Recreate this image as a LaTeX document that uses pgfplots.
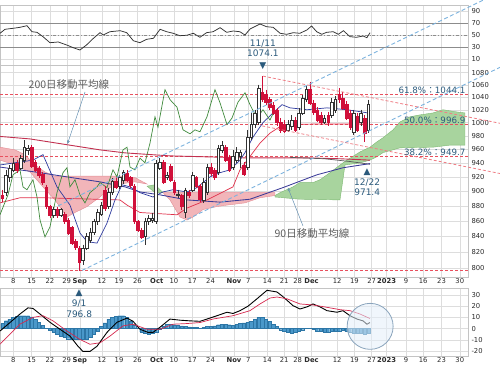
\documentclass[border=0pt]{standalone}
\usepackage{pgfplots}
\pgfplotsset{compat=1.18}
\usepackage{fontspec}
\setmainfont{DejaVu Sans}
\newfontfamily\jp{Noto Sans CJK JP}
\usetikzlibrary{arrows.meta}

\definecolor{gridc}{HTML}{DDDDDD}
\definecolor{framec}{HTML}{C4C4C4}
\definecolor{tickc}{HTML}{2A2A2A}
\definecolor{candR}{HTML}{D0103A}
\definecolor{candW}{HTML}{333333}
\definecolor{ma200}{HTML}{C2304F}
\definecolor{ma90}{HTML}{3B3B98}
\definecolor{tenkan}{HTML}{2E3A9E}
\definecolor{kijun}{HTML}{E0304A}
\definecolor{chikou}{HTML}{3F8A3C}
\definecolor{kumoR}{HTML}{F2B5B9}
\definecolor{kumoRe}{HTML}{E38E96}
\definecolor{kumoG}{HTML}{A8D49E}
\definecolor{kumoGe}{HTML}{7DB872}
\definecolor{fibred}{HTML}{E8505E}
\definecolor{trendred}{HTML}{EF7F86}
\definecolor{trendblue}{HTML}{7DB3DE}
\definecolor{annot}{HTML}{2B5A7C}
\definecolor{jpgray}{HTML}{5E5E5E}
\definecolor{macdbar}{HTML}{4A98CA}
\definecolor{macdbare}{HTML}{2D76A6}
\definecolor{circf}{HTML}{E3EFFA}
\definecolor{circe}{HTML}{8AA4BC}
\definecolor{rsic}{HTML}{333333}
\definecolor{lvl}{HTML}{8C8C8C}

\pgfplotsset{
  panel/.style={
    scale only axis, width=468pt,
    xmin=-3.63, xmax=124.24,
    axis line style={draw=framec},
    major tick length=0pt,
    xtick={0,5,10,14.6,18.2,24.2,28.9,33.9,39.2,43.9,48.9,53.9,60.3,64.2,69.4,74,77.7,81.5,88.5,93.2,97.9,102,107.3,112,117,122},
    xmajorgrids, ymajorgrids,
    grid style={draw=gridc, line width=0.4pt},
    yticklabel pos=right,
    tick label style={font=\fontsize{6.8}{7.5}\selectfont, text=tickc},
    xticklabel style={inner sep=1.2pt},
  },
  datelabels/.style={xticklabels={8,15,22,29,\textbf{Sep},12,19,26,\textbf{Oct},10,17,24,\textbf{Nov},7,14,21,28,\textbf{Dec},12,19,27,\textbf{2023},9,16,23,30}},
  wickR/.style={draw=candR, line width=0.45pt},
  wickW/.style={draw=candW, line width=0.45pt},
  bodyR/.style={fill=candR, draw=candR, line width=0.3pt},
  bodyW/.style={fill=white, draw=candW, line width=0.45pt},
}

\newcommand\candle[6]{%
  \pgfmathsetmacro\cxa{#2-0.36}%
  \pgfmathsetmacro\cxb{#2+0.36}%
  \addplot[wick#1] coordinates {(#2,#4) (#2,#5)};%
  \edef\candlebody{\noexpand\addplot[body#1] coordinates {(\cxa,#3) (\cxb,#3) (\cxb,#6) (\cxa,#6)} -- cycle;}%
  \candlebody
}

\begin{document}
\begin{tikzpicture}
\path[use as bounding box] (0,0) rectangle (500pt,368pt);

% ---------------- MACD panel ----------------
\begin{axis}[panel, datelabels, at={(0pt,12pt)}, anchor=south west, height=68pt,
  ymin=-24.5, ymax=36.25, ytick={-20,-10,0,10,20,30}, yticklabels={-20,-10,0,10,20,30}]
\addplot[ybar, bar width=0.9, fill=macdbar, draw=macdbare, line width=0.3pt] coordinates {
(-3,4.5) (-2,7) (-1,8.5) (0,10) (1,11) (2,11.5) (3,11.5) (4,11.5) (5,10.5) (6,8) (7,5.5) (8,3) (9,0.5)
(10,-1.5) (11,-3.5) (12,-5) (13,-6.5) (14,-8) (15,-9) (16,-9.7) (17,-9.7) (18,-9.7) (19,-9.7) (20,-9.5)
(21,-7.5) (22,-5) (23,-2) (24,2) (25,5) (26,8.5) (27,10) (28,11) (29,11.5) (30,11.5) (31,10) (32,7)
(33,3.5) (34,0) (35,-3) (36,-4.5) (37,-5) (38,-4.5) (39,-3) (40,-0.5) (41,2.5) (42,4) (43,4) (44,3.5)
(45,3) (46,2.5) (47,2) (48,1.5) (49,1) (50,1) (51,0.5) (52,1) (53,2) (54,2) (55,2.5) (56,3.5) (57,4)
(58,4) (59,3.5) (60,3) (61,4) (62,4.5) (63,5) (64,5.5) (65,6.5) (66,8.5) (67,10) (68,10) (69,8.5)
(70,6.5) (71,4) (72,2) (73,-1) (74,-2.5) (75,-3.5) (76,-3.8) (77,-3.5) (78,-2.5) (79,-1) (80,0.5)
(81,0.5) (82,-0.5) (83,-2) (84,-2.5) (85,-3) (86,-3) (87,-2.5) (88,-2.5) (89,-2) (90,-1.5) (91,-2.5)
(92,-3.5) (93,-4) (94,-4.5) (95,-4.5) (96,-5) (97,-4)};
\addplot[draw=black, line width=0.9pt] coordinates {
(-3.63,-2.2) (-0.90,5.4) (1.83,13) (4.02,18.5) (5.38,18) (7.30,13) (10.03,5.6) (12.76,-0.6) (15.49,-6.7)
(17.68,-15.8) (19.04,-20.4) (20.96,-20.4) (22.87,-15.8) (25.60,-3.4) (28.33,5.6) (31.07,9.4) (32.70,6.6)
(34.62,-0.6) (36.80,-3.4) (38.17,-3.4) (40.08,1.2) (42.81,8.5) (45.55,7.5) (48.28,6.9) (51.01,6.5)
(52.92,8.5) (55.66,11.5) (58.39,14.6) (60.03,13.5) (61.94,16) (64.13,20) (66.58,26.6) (69.32,34.2)
(72.05,32.7) (73.69,28.5) (76.42,20.5) (78.33,17.5) (80.25,19.4) (81.89,22) (83.80,19.4) (85.71,16)
(88.44,14.6) (90.08,16) (91.99,11.5) (93.91,8.5) (95.55,6.9) (96.64,3.9) (97.46,5.4)};
\addplot[draw=candR!90, line width=0.7pt] coordinates {
(-3.63,-14) (-0.90,-5) (1.83,4) (5.38,10) (8.11,11.5) (10.85,6.9) (14.67,-2.2) (18.22,-9.7) (20.96,-14)
(23.69,-12.7) (26.42,-6.7) (29.97,2.4) (32.70,3.9) (36.53,-0.6) (40.08,-0.6) (43.63,3.9) (47.46,4.5)
(51.01,5.4) (54.56,8.5) (60.03,11.5) (64.67,16) (67.40,22) (70.14,27.3) (72.05,28.2) (74.78,26.6)
(78.33,22) (81.89,21.1) (85.71,19) (89.26,16.9) (91.99,16) (94.73,13) (97.46,9)};
\draw[draw=circe, line width=0.8pt, fill=circf, fill opacity=0.55] (axis cs:97.5,2) circle[radius=23pt];
\end{axis}

% ---------------- RSI panel ----------------
\begin{axis}[panel, xticklabels={}, at={(0pt,302.7pt)}, anchor=south west, height=60.4pt,
  ymin=0, ymax=100, ytick={10,30,50,70,90}, yticklabels={10,30,50,70,90}]
\addplot[draw=lvl, line width=0.9pt] coordinates {(-3.63,70) (124.24,70)};
\addplot[draw=lvl, line width=0.9pt] coordinates {(-3.63,30) (124.24,30)};
\addplot[draw=lvl, line width=0.6pt, dash dot] coordinates {(-3.63,50) (124.24,50)};
\addplot[draw=rsic, line width=0.75pt] coordinates {
(-3.63,53) (-2.27,59.6) (0,61.3) (1.83,62.9) (3.74,65.6) (5.11,55.6) (6.48,54.6) (8.11,47.4) (10.03,37.4)
(12.3,38.6) (14.6,33.6) (16.4,29.1) (18.2,25.3) (20,33.6) (21.9,44.7) (23.7,54) (24.6,50.2) (26.4,55.6)
(29.2,57.3) (31,54) (32.8,40.7) (34.6,37.4) (36.4,43) (38.3,44.7) (40.1,59.6) (41.9,55.6) (43.7,53)
(45.5,49) (47.4,49.7) (49.2,53) (51,46.4) (52.8,54) (54.6,55.6) (56.5,62.3) (58.3,54.6) (60.1,56.8)
(61.9,55.6) (63.3,50.2) (64.7,60.1) (67.4,68.4) (69.2,63.9) (71,62.9) (72.9,53) (74.7,51.3) (76.5,54)
(78.3,53) (80.2,58.4) (81.5,65.1) (82.9,55.6) (84.3,51.3) (85.6,54.6) (87.4,55.6) (88.8,51.3) (90.2,57.3)
(92,47.4) (93.8,46.4) (95.6,48.5) (96.6,45.7) (97.5,54)};
\end{axis}

% ---------------- Main price panel ----------------
\begin{axis}[panel, datelabels, at={(0pt,91pt)}, anchor=south west, height=212pt,
  ymode=log, ymin=789, ymax=1092.7, clip=false,
  ytick={800,820,840,860,880,900,920,940,960,980,1000,1020,1040,1060,1080},
  yticklabels={800,820,840,860,880,900,920,940,960,980,1000,1020,1040,1060,1080}]
% Ichimoku cloud
\addplot[fill=kumoR, draw=kumoRe, line width=0.4pt] coordinates {
(-3.63,963) (0.46,959) (3.20,952) (5.93,937) (8.66,927) (11.39,921) (29.15,921) (33.25,919) (36.53,910)
(33.25,913) (29.15,910) (26.42,905) (23.69,892) (20.14,879) (16.86,871) (14.67,865) (11.39,888) (8.11,906)
(4.56,927) (0.46,937) (-3.63,944)} -- cycle;
\addplot[fill=kumoG, draw=kumoGe, line width=0.4pt] coordinates {
(36.53,907) (38.72,909) (40.9,898) (38.72,898)} -- cycle;
\addplot[fill=kumoR, draw=kumoRe, line width=0.4pt] coordinates {
(40.9,898) (71.5,898) (71.5,894) (67.40,891) (63.31,884) (58.39,881) (55.66,879) (51.83,875) (49.10,865)
(47.46,861) (45.55,865) (42.81,888)} -- cycle;
\addplot[fill=kumoG, draw=kumoGe, line width=0.4pt] coordinates {
(71.5,894) (72.87,898) (76.42,906) (78.33,912) (81.89,912) (83.80,916) (86.53,926) (89.26,937) (91.17,944)
(94.73,956) (97.46,963) (99.37,971) (101.01,977) (103.74,989) (105.66,1001) (108.39,1009) (111.12,1012)
(114.67,1015) (117.40,1020) (120.68,1017) (123.41,1015)
(123.41,966) (119.32,966) (114.67,963) (105.66,962) (101.01,955) (99.37,949) (97.46,944) (94.73,940)
(90.63,937) (89.26,888) (78.33,889) (71.5,892)} -- cycle;
% Fibonacci levels
\addplot[draw=fibred, line width=0.7pt, dash pattern=on 3pt off 2pt] coordinates {(-3.63,1044.1) (124.24,1044.1)};
\addplot[draw=fibred, line width=0.7pt, dash pattern=on 3pt off 2pt] coordinates {(-3.63,996.9) (124.24,996.9)};
\addplot[draw=fibred, line width=0.7pt, dash pattern=on 3pt off 2pt] coordinates {(-3.63,949.7) (124.24,949.7)};
\addplot[draw=fibred, line width=0.7pt, dash pattern=on 3pt off 2pt] coordinates {(-3.63,796.8) (124.24,796.8)};
% 200-day MA
\addplot[draw=ma200, line width=0.9pt] coordinates {
(-3.63,979) (4.56,975.3) (14.95,966.4) (23.69,959) (30.52,954.6) (42.81,950.2) (63.31,947.3) (80.25,947.3)
(89.26,946) (97.46,944)};
\addplot[draw=black!65, line width=0.7pt] coordinates {(75.6,948) (85,946) (92,942) (97.46,938)};
% 90-day MA
\addplot[draw=ma90, line width=0.85pt] coordinates {
(-3.63,934) (1.83,930) (7.30,926) (14.67,920) (23.69,913) (30.52,906) (34.62,899) (40.08,895) (47.46,888)
(56.48,885) (64.67,889) (73.69,905) (82.98,923) (90.08,933) (97.46,939)};
% Kijun (red)
\addplot[draw=kijun, line width=0.7pt] coordinates {
(-3.63,884) (1.83,891) (8.66,891) (29.15,888) (31.07,881) (34.62,871) (44.73,868) (47.46,877) (52.92,888)
(60.03,906) (61.94,930) (67.40,969) (70.14,984) (73.69,997) (83.80,998) (97.46,998)};
% Tenkan (blue)
\addplot[draw=tenkan, line width=0.7pt] coordinates {
(-3.63,937) (5.38,944) (8.11,952) (11.94,906) (15.49,881) (18.22,844) (20.14,833) (22.87,831) (25.60,857)
(27.79,888) (29.70,909) (31.89,906) (34.62,898) (38.17,892) (40.90,899) (43.63,902) (47.46,899) (50.19,905)
(53.74,920) (56.48,926) (59.21,930) (61.94,944) (63.31,955) (65.49,978) (68.22,1000) (70.96,1015)
(73.42,1028) (75.60,1023) (80.25,1020) (85.71,1023) (91.17,1020) (94.73,1017) (96.91,1015)};
% Chikou (green)
\addplot[draw=chikou, line width=0.7pt] coordinates {
(-3.63,868) (-1.45,895) (-0.08,923) (1.83,930) (2.65,906) (3.74,902) (5.38,916) (6.48,892) (7.30,861)
(8.66,839) (10.03,852) (11.94,898) (13.58,926) (14.67,933) (15.49,906) (16.86,916) (18.22,895) (19.59,884)
(20.96,898) (22.87,906) (23.69,912) (25.60,905) (27.24,930) (28.33,920) (29.97,959) (31.07,963) (31.89,934)
(33.25,930) (34.62,947) (35.98,940) (37.35,969) (38.72,1009) (39.54,993) (41.45,1052) (42.81,1036)
(44.73,1024) (46.37,989) (48.28,983) (49.64,989) (51.01,986) (52.92,1009) (55.11,1052) (56.48,1031)
(58.39,997) (59.75,1007) (61.39,1032) (63.31,1047) (64.67,1028) (66.58,1007) (68.22,1020) (70.14,1004)
(71.23,1017)};
% Candles: style, day, open, high, low, close
\candle{R}{-3}{895}{902}{885}{891}
\candle{W}{-2}{898}{930}{894}{923}
\candle{W}{-1}{919}{937}{913}{933}
\candle{W}{0}{930}{947}{927}{940}
\candle{R}{1}{940}{944}{926}{930}
\candle{W}{2}{933}{952}{930}{947}
\candle{W}{3}{944}{974}{940}{963}
\candle{W}{4}{959}{966}{952}{962}
\candle{R}{5}{963}{966}{933}{936}
\candle{R}{6}{941}{944}{927}{930}
\candle{R}{7}{933}{936}{919}{923}
\candle{R}{8}{924}{927}{909}{912}
\candle{R}{9}{906}{909}{876}{879}
\candle{R}{10}{879}{881}{864}{868}
\candle{W}{11}{867}{879}{864}{875}
\candle{R}{12}{875}{879}{864}{867}
\candle{W}{13}{868}{877}{865}{875}
\candle{R}{14}{869}{872}{856}{859}
\candle{R}{15}{861}{864}{842}{844}
\candle{R}{16}{851}{853}{829}{831}
\candle{R}{17}{834}{836}{822}{826}
\candle{R}{18}{825}{827}{796.8}{807}
\candle{W}{19}{810}{829}{804}{825}
\candle{W}{20}{825}{844}{822}{840}
\candle{W}{21}{835}{851}{831}{845}
\candle{W}{22}{845}{863}{842}{859}
\candle{W}{23}{859}{876}{855}{872}
\candle{W}{24}{869}{885}{867}{881}
\candle{R}{25}{902}{907}{873}{877}
\candle{W}{26}{879}{905}{876}{899}
\candle{W}{27}{899}{919}{895}{914}
\candle{R}{28}{914}{920}{903}{906}
\candle{W}{29}{907}{923}{903}{919}
\candle{W}{30}{916}{930}{910}{926}
\candle{R}{31}{926}{930}{913}{916}
\candle{R}{32}{919}{921}{905}{909}
\candle{R}{33}{907}{910}{856}{859}
\candle{R}{34}{859}{861}{845}{848}
\candle{R}{35}{848}{851}{836}{839}
\candle{W}{36}{840}{864}{829}{859}
\candle{W}{37}{859}{868}{855}{863}
\candle{W}{38}{861}{871}{857}{864}
\candle{W}{39}{859}{944}{856}{939}
\candle{W}{40}{933}{947}{930}{941}
\candle{R}{41}{941}{944}{910}{913}
\candle{W}{42}{919}{927}{916}{923}
\candle{R}{43}{936}{939}{913}{916}
\candle{R}{44}{913}{916}{895}{899}
\candle{W}{45}{894}{902}{891}{896}
\candle{R}{46}{894}{896}{875}{879}
\candle{W}{47}{872}{905}{864}{902}
\candle{R}{48}{899}{902}{891}{894}
\candle{W}{49}{902}{927}{899}{923}
\candle{R}{50}{919}{921}{905}{907}
\candle{R}{51}{907}{910}{885}{889}
\candle{W}{52}{888}{919}{884}{913}
\candle{W}{53}{899}{939}{895}{934}
\candle{R}{54}{934}{940}{921}{926}
\candle{R}{55}{930}{933}{916}{919}
\candle{W}{56}{926}{966}{923}{962}
\candle{W}{57}{959}{972}{955}{966}
\candle{R}{58}{963}{966}{941}{944}
\candle{R}{59}{947}{952}{927}{930}
\candle{W}{60}{934}{959}{930}{949}
\candle{W}{61}{944}{963}{940}{956}
\candle{W}{62}{950}{959}{933}{955}
\candle{R}{63}{937}{941}{921}{924}
\candle{W}{64}{934}{989}{930}{978}
\candle{W}{65}{978}{1015}{974}{997}
\candle{W}{66}{997}{1020}{992}{1015}
\candle{W}{67}{1000}{1060}{997}{1055}
\candle{R}{68}{1048}{1074.1}{1032}{1036}
\candle{R}{69}{1044}{1052}{1028}{1032}
\candle{R}{70}{1036}{1040}{1020}{1024}
\candle{R}{71}{1028}{1032}{1012}{1015}
\candle{R}{72}{1020}{1023}{995}{1000}
\candle{R}{73}{1001}{1007}{984}{989}
\candle{R}{74}{997}{1004}{984}{987}
\candle{W}{75}{989}{1004}{986}{997}
\candle{W}{76}{995}{1012}{989}{1004}
\candle{R}{77}{1004}{1009}{986}{989}
\candle{W}{78}{993}{1023}{989}{1015}
\candle{W}{79}{1015}{1044}{1012}{1039}
\candle{W}{80}{1036}{1058}{1032}{1052}
\candle{R}{81}{1052}{1065}{1028}{1031}
\candle{R}{82}{1031}{1036}{1012}{1017}
\candle{R}{83}{1020}{1024}{1001}{1004}
\candle{R}{84}{1012}{1017}{997}{1000}
\candle{W}{85}{1001}{1012}{998}{1007}
\candle{R}{86}{1012}{1017}{995}{1001}
\candle{W}{87}{1012}{1039}{1007}{1032}
\candle{W}{88}{1020}{1042}{1015}{1036}
\candle{R}{89}{1044}{1055}{1031}{1036}
\candle{R}{90}{1039}{1048}{1020}{1023}
\candle{R}{91}{1029}{1034}{1004}{1007}
\candle{R}{92}{1015}{1020}{989}{993}
\candle{W}{93}{986}{1020}{981}{1015}
\candle{R}{94}{1010}{1015}{986}{989}
\candle{W}{95}{1000}{1020}{995}{1015}
\candle{R}{96}{1007}{1012}{971.4}{984}
\candle{W}{97}{989}{1036}{984}{1028}
% Trend lines
\addplot[draw=trendblue, line width=0.9pt, dash pattern=on 4pt off 2.5pt] coordinates {(18.77,797) (132.98,1088.7)};
\addplot[draw=trendblue, line width=0.9pt, dash pattern=on 4pt off 2.5pt] coordinates {(12.21,879.9) (128.34,1207)};
\addplot[draw=trendred, line width=0.8pt, dash pattern=on 3pt off 2pt] coordinates {(68.22,1074.1) (132.98,999)};
\addplot[draw=trendred, line width=0.8pt, dash pattern=on 3pt off 2pt] coordinates {(68.0,995) (132.98,924.8)};
% Annotations
\node[font=\jp\fontsize{10.5}{11}\selectfont, text=jpgray] at (axis cs:15.2,1059.7) {200日移動平均線};
\draw[trendblue!80!black, line width=0.5pt, -{Stealth[length=3.5pt,width=3pt]}] (axis cs:19.6,1048.3) -- (axis cs:14.8,967.9);
\node[font=\jp\fontsize{10.5}{11}\selectfont, text=jpgray] at (axis cs:81.6,842.9) {90日移動平均線};
\draw[trendblue!80!black, line width=0.5pt, -{Stealth[length=3.5pt,width=3pt]}] (axis cs:79.15,853.3) -- (axis cs:75.05,904.6);
\node[font=\fontsize{9}{9.5}\selectfont, text=annot] at (axis cs:68.2,1074.1) [yshift=10pt] {▼};
\node[font=\fontsize{9}{9.5}\selectfont, text=annot] at (axis cs:68.2,1074.1) [yshift=22.5pt] {1074.1};
\node[font=\fontsize{9}{9.5}\selectfont, text=annot] at (axis cs:68.2,1074.1) [yshift=32.5pt] {11/11};
\node[font=\fontsize{9}{9.5}\selectfont, text=annot] at (axis cs:96.7,971.4) [yshift=-31pt] {▲};
\node[font=\fontsize{9}{9.5}\selectfont, text=annot] at (axis cs:96.7,971.4) [yshift=-41pt] {12/22};
\node[font=\fontsize{9}{9.5}\selectfont, text=annot] at (axis cs:96.7,971.4) [yshift=-51pt] {971.4};
\node[font=\fontsize{9}{9.5}\selectfont, text=annot] at (axis cs:18,796.8) [yshift=-23pt] {▲};
\node[font=\fontsize{9}{9.5}\selectfont, text=annot] at (axis cs:18,796.8) [yshift=-33pt] {9/1};
\node[font=\fontsize{9}{9.5}\selectfont, text=annot] at (axis cs:18,796.8) [yshift=-43.5pt] {796.8};
\node[anchor=south east, inner sep=0.8pt, font=\fontsize{8.7}{9}\selectfont, text=annot] at (axis cs:123.8,1044.1) {61.8\%{\jp ：}1044.1};
\node[anchor=south east, inner sep=0.8pt, font=\fontsize{8.7}{9}\selectfont, text=annot] at (axis cs:123.8,996.9) {50.0\%{\jp ：}996.9};
\node[anchor=south east, inner sep=0.8pt, font=\fontsize{8.7}{9}\selectfont, text=annot] at (axis cs:123.8,949.7) {38.2\%{\jp ：}949.7};
\end{axis}
\end{tikzpicture}
\end{document}
